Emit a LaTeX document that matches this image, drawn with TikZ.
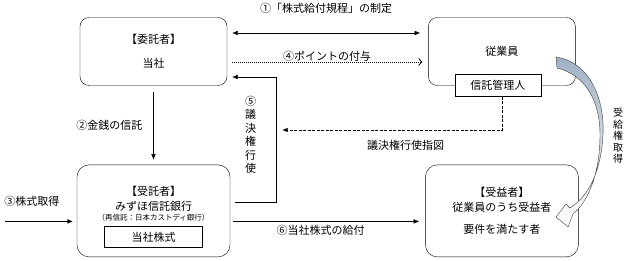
\documentclass[tikz,border=0pt]{standalone}
\usepackage{fontspec}
\setmainfont{Noto Sans CJK JP}
\usetikzlibrary{positioning,arrows.meta}
\definecolor{bandblue}{RGB}{160,177,197}

\begin{document}
\begin{tikzpicture}[
	x=1pt, y=-1pt,
	font=\fontsize{11}{13.5}\selectfont,
	box/.style = {draw, rounded corners=9pt, minimum width=147pt, minimum height=68pt, align=center, inner sep=0pt},
	bigbox/.style = {draw, rounded corners=12pt, minimum width=153pt, minimum height=92pt, align=center, inner sep=0pt},
	sqbox/.style = {draw, fill=white, align=center, inner sep=0pt},
	lbl/.style = {inner sep=0pt},
	vtext/.style = {align=center, inner sep=0pt},
	line/.style = {-{Latex[length=5.5pt,width=4.5pt]}},
	twoway/.style = {{Latex[length=5.5pt,width=4.5pt]}-{Latex[length=5.5pt,width=4.5pt]}}
	]
	
	\useasboundingbox (0,0) rectangle (627,261);
	
	\node[box] (itaku) at (153.5,51.5) {【委託者】\\[10pt]当社};
	\node[box, right=201pt of itaku] (emp) {従業員};
	\node[sqbox, minimum width=86pt, minimum height=22pt, xshift=-4pt] (kanri) at (emp.south) {信託管理人};
	\node[bigbox, below=79pt of itaku] (jutaku) {};
	\node[lbl] (jutakulbl) at ([yshift=19.5pt]jutaku.center) {【受託者】};
	\node[lbl] (bank) at ([yshift=4.5pt]jutaku.center) {みずほ信託銀行};
	\node[lbl, font=\fontsize{7.5}{9}\selectfont] (saishin) at ([yshift=-6.5pt]jutaku.center) {（再信託：日本カストディ銀行）};
	\node[sqbox, minimum width=98pt, minimum height=21pt] (kabu) at ([yshift=-26pt]jutaku.center) {当社株式};
	\node[bigbox, right=195pt of jutaku] (jueki) {};
	\node[lbl] (juekilbl) at ([yshift=19pt]jueki.center) {【受益者】};
	\node[lbl] (benef) at ([yshift=3.5pt]jueki.center) {従業員のうち受益者};
	\node[lbl] (cond) at ([yshift=-18.5pt]jueki.center) {要件を満たす者};
	\coordinate (buy) at ([shift={(-72pt,-10.5pt)}]jutaku.west);
	\coordinate (instr) at ([shift={(55pt,-78.5pt)}]itaku.east);
	
	\draw[twoway] ([shift={(5pt,18.5pt)}]itaku.east) -- ([shift={(-8pt,18.5pt)}]emp.west) node[midway, lbl, above=19.5pt] (rule) {①「株式給付規程」の制定};
	\draw[dash pattern=on 1pt off 1pt, thick, -{Straight Barb[length=3pt,width=7pt]}] ([shift={(5pt,-10.5pt)}]itaku.east) -- ([shift={(-6pt,-10.5pt)}]emp.west) node[midway, lbl, above=0.5pt] (point) {④ポイントの付与};
	\draw[line] ([shift={(5pt,8.5pt)}]jutaku.east) -- ++(41pt,0pt) |- ([shift={(5pt,-25.5pt)}]itaku.east) node[pos=0.27, vtext, left=20pt] (vote) {⑤\\議\\決\\権\\行\\使};
	\draw[line, dash pattern=on 3pt off 1.5pt, semithick] ([xshift=4.5pt]kanri.south) |- (instr) node[pos=0.72, lbl, below=9.5pt] (instrlbl) {議決権行使指図};
	\draw[line, shorten <=6.5pt, shorten >=5pt] (itaku) -- (jutaku) node[midway, lbl, left=11pt] (money) {②金銭の信託};
	\draw[line] (buy) -- ([shift={(-4pt,-10.5pt)}]jutaku.west) node[pos=0.4, lbl, above=14.5pt] (stock) {③株式取得};
	\draw[line] ([shift={(3pt,-10.5pt)}]jutaku.east) -- ([shift={(-6pt,-10.5pt)}]jueki.west) node[pos=0.47, lbl, below=3.5pt] (give) {⑥当社株式の給付};
	
	% curved arrow to the beneficiary
	\draw[black!75, top color=bandblue, bottom color=white, line join=round]
	(556,57) .. controls (590,62) and (605,100) .. (603,135)
	.. controls (601,170) and (590,195) .. (570,208)
	-- (566,204) -- (556,217) -- (568,227) -- (573,214)
	.. controls (590,200) and (600,170) .. (600,135)
	.. controls (600,100) and (585,75) .. (557,68) -- cycle;
	\node[vtext, font=\fontsize{10}{11.5}\selectfont] (acquire) at (618,136) {受\\給\\権\\取\\得};
\end{tikzpicture}
\end{document}
